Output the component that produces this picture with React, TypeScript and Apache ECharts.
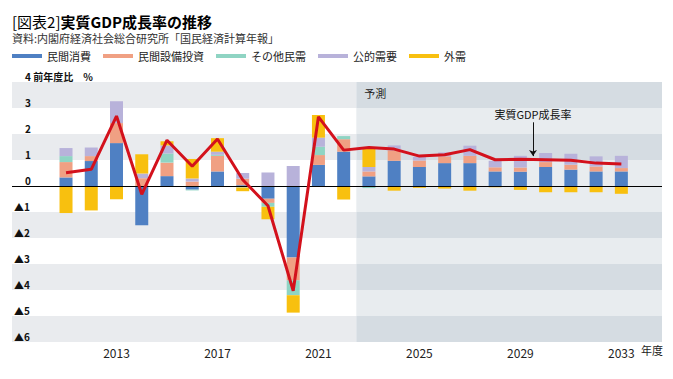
import React, { useEffect, useRef } from 'react';
import * as echarts from 'echarts';

// ---- data (fiscal years, contributions in percentage points) ----
const years = [2011, 2012, 2013, 2014, 2015, 2016, 2017, 2018, 2019, 2020, 2021, 2022, 2023, 2024, 2025, 2026, 2027, 2028, 2029, 2030, 2031, 2032, 2033];
const consumption = [0.33, 0.96, 1.65, -1.51, 0.38, -0.14, 0.56, 0.03, -0.49, -2.75, 0.81, 1.32, 0.37, 0.97, 0.73, 0.88, 0.88, 0.56, 0.55, 0.73, 0.63, 0.56, 0.56];
const capex = [0.59, 0.19, 0.77, 0.3, 0.52, 0.17, 0.6, 0.25, -0.16, -0.88, 0.38, 0.48, 0.19, 0.4, 0.25, 0.26, 0.28, 0.16, 0.16, 0.19, 0.19, 0.19, 0.13];
const otherPrivate = [0.23, 0, 0, 0, 0.35, -0.03, 0.04, -0.06, -0.15, -0.57, 0.32, 0.12, -0.08, 0, 0, 0, 0, 0, 0, 0, 0, 0, 0];
const publicDemand = [0.31, 0.33, 0.84, 0.18, 0.31, 0.12, 0.12, 0.22, 0.52, 0.77, 0.35, 0, 0.17, 0.19, 0.14, 0.15, 0.39, 0.25, 0.45, 0.35, 0.42, 0.39, 0.47];
const externalDemand = [-1.04, -0.94, -0.51, 0.74, 0.16, 0.75, 0.52, -0.14, -0.48, -0.67, 0.87, -0.52, 0.73, -0.18, -0.07, -0.1, -0.18, -0.05, -0.15, -0.24, -0.24, -0.24, -0.3];
const gdpGrowth = [0.51, 0.64, 2.69, -0.32, 1.76, 0.76, 1.81, 0.24, -0.76, -4.03, 2.66, 1.38, 1.48, 1.42, 1.15, 1.2, 1.4, 1.01, 1.03, 1.01, 0.99, 0.88, 0.85];
const tickYears = [2013, 2017, 2021, 2025, 2029, 2033];
const yTickValues = [4, 3, 2, 1, 0, -1, -2, -3, -4, -5, -6];
const seriesNames = ['民間消費', '民間設備投資', 'その他民需', '公的需要', '外需'];
const shadedRows = [[3, 4], [1, 2], [-2, -1], [-4, -3], [-6, -5]];
const plainRows = [[2, 3], [0, 1], [-1, 0], [-3, -2], [-5, -4]];

// ---- layout / style constants ----
const FONT = '"Noto Sans CJK JP", "Noto Sans", sans-serif';
const AXIS_MIN = 2008.86;
const AXIS_MAX = 2034.61;
const FORECAST_START = 2022.5;
const ANNOT_X = 2029.5;
const ANNOT_TOP = 2.45;
const ANNOT_BOTTOM = 1.15;
const COLORS = ['#4f80c3', '#f0a083', '#8fd4c3', '#b8b2da', '#f8c00f'];
const LINE_COLOR = '#d3111c';
const BAR_W = 13;
const GRID_LEFT = 12;

export default function App() {
  const ref = useRef<HTMLDivElement>(null);
  useEffect(() => {
    document.body.style.margin = '0';
    const chart = echarts.init(ref.current!, null, { renderer: 'svg' });
    const comps = [consumption, capex, otherPrivate, publicDemand, externalDemand];
    const posBase = years.map(() => 0);
    const negBase = years.map(() => 0);
    const barSeries: any[] = comps.map((arr, ci) => {
      const data = years.map((y, i) => {
        const v = arr[i];
        let b: number;
        if (v >= 0) { b = posBase[i]; posBase[i] += v; }
        else { b = negBase[i]; negBase[i] += v; }
        return [y, b, b + v];
      });
      const s: any = {
        type: 'custom',
        name: seriesNames[ci],
        itemStyle: { color: COLORS[ci] },
        encode: { x: 0, y: [1, 2] },
        z: 2,
        renderItem: (params: any, api: any) => {
          const x = api.value(0);
          const p0 = api.coord([x, api.value(1)]);
          const p1 = api.coord([x, api.value(2)]);
          return {
            type: 'rect',
            shape: { x: p0[0] - BAR_W / 2, y: Math.min(p0[1], p1[1]), width: BAR_W, height: Math.abs(p1[1] - p0[1]) },
            style: { fill: COLORS[ci] },
          };
        },
        data,
      };
      if (ci === 0) {
        s.markLine = {
          silent: true,
          z: 2.5,
          symbol: 'none',
          label: { show: false },
          lineStyle: { color: '#000', width: 1, type: 'solid' },
          data: [{ yAxis: 0 }],
        };
      }
      return s;
    });

    const bandData: any[] = [];
    shadedRows.forEach((r) => {
      bandData.push([{ xAxis: AXIS_MIN, yAxis: r[0], itemStyle: { color: '#e9ebee' } }, { xAxis: FORECAST_START, yAxis: r[1] }]);
      bandData.push([
        {
          xAxis: FORECAST_START,
          yAxis: r[1],
          itemStyle: { color: '#d5dce2' },
          name: r[1] === 4 ? '予測' : '',
          label: { show: r[1] === 4 },
        },
        { xAxis: AXIS_MAX, yAxis: r[0] },
      ]);
    });
    plainRows.forEach((r) => {
      bandData.push([{ xAxis: FORECAST_START, yAxis: r[0], itemStyle: { color: '#e8ecef' } }, { xAxis: AXIS_MAX, yAxis: r[1] }]);
    });

    const staticGraphics: any[] = [
      {
        type: 'text',
        x: 12,
        y: 21.5,
        style: {
          text: '{a|[図表2]}{b|実質GDP成長率の推移}',
          verticalAlign: 'middle',
          rich: {
            a: { fontSize: 15, color: '#444', fontFamily: FONT, fontWeight: 'normal', lineHeight: 16 },
            b: { fontSize: 15, color: '#111', fontFamily: FONT, fontWeight: 'bold', lineHeight: 16 },
          },
        },
      },
      {
        type: 'text',
        x: 12,
        y: 38,
        style: { text: '資料:内閣府経済社会総合研究所「国民経済計算年報」', fontSize: 11, lineHeight: 12, verticalAlign: 'middle', fill: '#333', fontFamily: FONT },
      },
      {
        type: 'text',
        left: 641,
        top: 344,
        style: { text: '年度', fontSize: 11, fill: '#222', fontFamily: FONT },
      },
    ];

    const option: any = {
      animation: false,
      textStyle: { fontFamily: FONT },
      grid: { left: GRID_LEFT, right: 11, top: 82, bottom: 37 },
      legend: {
        data: seriesNames,
        left: 12,
        top: 49,
        padding: 0,
        itemWidth: 30,
        itemHeight: 4,
        itemGap: 12,
        icon: 'rect',
        textStyle: { fontSize: 11, color: '#222', fontFamily: FONT, lineHeight: 14 },
      },
      xAxis: {
        type: 'value',
        min: AXIS_MIN,
        max: AXIS_MAX,
        axisLine: { show: false },
        axisTick: { show: false },
        splitLine: { show: false },
        axisLabel: {
          customValues: tickYears,
          formatter: (v: number) => String(v),
          fontSize: 12,
          color: '#222',
          margin: 4,
          fontFamily: FONT,
        },
      },
      yAxis: {
        type: 'value',
        min: -6,
        max: 4,
        interval: 1,
        axisLine: { show: false },
        axisTick: { show: false },
        splitLine: { show: false },
        axisLabel: { show: false },
      },
      graphic: staticGraphics,
      series: [
        ...barSeries,
        {
          type: 'line',
          name: '実質GDP成長率',
          data: years.map((y, i) => [y, gdpGrowth[i]]),
          symbol: 'none',
          z: 3,
          lineStyle: { color: LINE_COLOR, width: 3 },
          itemStyle: { color: LINE_COLOR },
          markArea: {
            silent: true,
            z: 1,
            label: { show: false, position: 'insideTopLeft', distance: 5, offset: [3, 0], fontSize: 11, color: '#222', fontFamily: FONT },
            data: bandData,
          },
          markLine: {
            silent: true,
            z: 4,
            symbol: ['none', 'arrow'],
            symbolSize: 6,
            lineStyle: { color: '#111', width: 1, type: 'solid' },
            label: { show: true, position: 'start', formatter: '実質GDP成長率', fontSize: 11, color: '#111', distance: 3, fontFamily: FONT },
            data: [[{ coord: [ANNOT_X, ANNOT_TOP] }, { coord: [ANNOT_X, ANNOT_BOTTOM] }]],
          },
        },
      ],
    };
    chart.setOption(option);

    // y-axis tick labels, positioned through the axis scale
    const yLabels = yTickValues.map((v) => {
      const py = chart.convertToPixel({ yAxisIndex: 0 }, v) as number;
      const text = v === 4 ? '4 前年度比　%' : v >= 0 ? String(v) : `▲${-v}`;
      return {
        type: 'text',
        x: GRID_LEFT + (v >= 0 ? 13 : 2),
        y: py - 1,
        z: 10,
        style: { text, fontSize: 10, fontWeight: 'bold', fill: '#111', fontFamily: FONT, verticalAlign: 'bottom', align: 'left' },
      };
    });
    chart.setOption({ graphic: [...staticGraphics, ...yLabels] });
    return () => chart.dispose();
  }, []);
  return <div ref={ref} style={{ width: 673, height: 379 }} />;
}
